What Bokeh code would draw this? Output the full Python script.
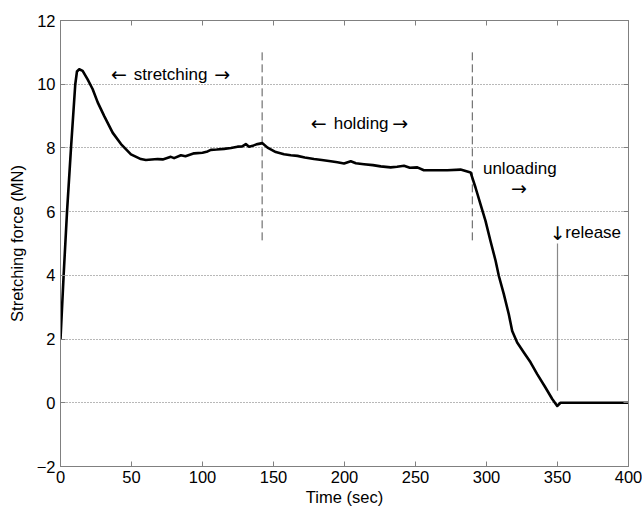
from bokeh.plotting import figure
from bokeh.models import Range1d, FixedTicker, LinearAxis, ColumnDataSource
from bokeh.embed import file_html
from bokeh.resources import INLINE
from bokeh.core.properties import value

# ---- data ----
time_s = [0, 2.2, 4.6, 7.4, 10.4, 11.6, 13.2, 15.6, 19.1, 22.6, 26.2, 30.8, 36.7,
          42.6, 49.6, 56.6, 60.1, 68.4, 72, 77.7, 80, 84.8, 88, 94.1, 100, 103.6,
          105.9, 110, 115.2, 120, 124.7, 128, 130.5, 132.8, 136, 138.7, 142.2,
          145.8, 151.6, 157.4, 162.2, 166.9, 172, 178.5, 184, 190.3, 195, 199.7,
          204.4, 208, 213.7, 220, 225.5, 232.5, 237, 241.9, 246, 251.3, 255.9,
          262, 272.4, 281.7, 286.5, 288.8, 292.3, 295.8, 299.3, 302.8, 306.4,
          308.7, 312.2, 315.7, 318.1, 321.6, 326.3, 331, 335.7, 341.5, 346.3,
          349.8, 352.1, 400]
force_mn = [2.0, 4.0, 6.0, 8.0, 10.0, 10.4, 10.47, 10.42, 10.15, 9.85, 9.43, 9.0, 8.48,
            8.12, 7.8, 7.65, 7.62, 7.65, 7.64, 7.72, 7.68, 7.77, 7.74, 7.83, 7.85, 7.89,
            7.94, 7.95, 7.97, 8.0, 8.04, 8.05, 8.12, 8.04, 8.08, 8.12, 8.15,
            8.01, 7.87, 7.8, 7.77, 7.75, 7.7, 7.65, 7.62, 7.58, 7.55, 7.51,
            7.58, 7.52, 7.49, 7.46, 7.42, 7.39, 7.41, 7.44, 7.38, 7.39, 7.30,
            7.30, 7.30, 7.32, 7.26, 7.23, 6.75, 6.23, 5.71, 5.08, 4.46,
            3.98, 3.41, 2.78, 2.25, 1.89, 1.58, 1.27, 0.9, 0.48, 0.12,
            -0.1, 0.0, 0.0]

x_ticks = [0, 50, 100, 150, 200, 250, 300, 350, 400]
y_ticks = [-2, 0, 2, 4, 6, 8, 10, 12]

phase_x = [142, 290]          # dashed phase boundaries
phase_y = [11.0, 5.0]         # top / bottom of the dashed lines
release_x = [350]
release_y = [5.0, 0.38]

# annotation words
word_text = ["stretching", "holding", "unloading", "release"]
word_x = [51.6, 192.4, 297.5, 355.5]
word_y = [10.32, 8.78, 7.35, 5.33]
# annotation arrows
arrow_text = ["\u2190", "\u2192", "\u2190", "\u2192", "\u2192", "\u2193"]
arrow_x = [35.5, 108.2, 176.2, 233.7, 317.3, 344.5]
arrow_y = [10.32, 10.32, 8.78, 8.78, 6.75, 5.33]

FONT = "Liberation Sans"
AXIS_COLOR = "#808080"

p = figure(width=642, height=510, output_backend="svg", toolbar_location=None,
           x_range=Range1d(0, 400), y_range=Range1d(-2, 12),
           min_border_left=60, min_border_right=14, min_border_top=20, min_border_bottom=44)
p.outline_line_color = AXIS_COLOR
p.background_fill_color = "white"
p.border_fill_color = "white"

for ax in (p.xaxis[0], p.yaxis[0]):
    ax.axis_line_color = AXIS_COLOR
    ax.major_tick_line_color = AXIS_COLOR
    ax.major_tick_in = 5
    ax.major_tick_out = 0
    ax.minor_tick_line_color = None
    ax.major_label_text_font = FONT
    ax.major_label_text_font_size = "16.5px"
    ax.major_label_text_color = "black"
    ax.axis_label_text_font = FONT
    ax.axis_label_text_font_size = "16.5px"
    ax.axis_label_text_font_style = "normal"
    ax.axis_label_text_color = "black"

p.xaxis[0].ticker = FixedTicker(ticks=x_ticks)
p.yaxis[0].ticker = FixedTicker(ticks=y_ticks)
p.xaxis[0].axis_label = "Time (sec)"
p.yaxis[0].axis_label = "Stretching force (MN)"
p.xaxis[0].major_label_standoff = 4
p.xaxis[0].axis_label_standoff = 2
p.yaxis[0].major_label_standoff = 5
p.yaxis[0].axis_label_standoff = 8

# box ticks on top and right (no labels)
top = LinearAxis(ticker=FixedTicker(ticks=x_ticks))
right = LinearAxis(ticker=FixedTicker(ticks=y_ticks))
for ax in (top, right):
    ax.axis_line_color = AXIS_COLOR
    ax.major_tick_line_color = AXIS_COLOR
    ax.major_tick_in = 5
    ax.major_tick_out = 0
    ax.minor_tick_line_color = None
    ax.major_label_text_font_size = "1px"
    ax.major_label_text_color = None
    ax.major_label_standoff = 0
p.add_layout(top, "above")
p.add_layout(right, "right")

p.xgrid.grid_line_color = None
p.ygrid.ticker = FixedTicker(ticks=y_ticks)
p.ygrid.grid_line_color = "#707070"
p.ygrid.grid_line_dash = "1 2"
p.ygrid.grid_line_width = 1

# dashed phase lines
p.segment(x0=phase_x, y0=[phase_y[0]] * len(phase_x), x1=phase_x, y1=[phase_y[1]] * len(phase_x),
          line_color="#555555", line_width=1, line_dash="8 4")
# release line
p.segment(x0=release_x, y0=[release_y[0]], x1=release_x, y1=[release_y[1]],
          line_color="#888888", line_width=1.2)

p.line(time_s, force_mn, line_color="black", line_width=2.6, line_join="round")

wsrc = ColumnDataSource(dict(x=word_x, y=word_y, t=word_text))
p.text(x="x", y="y", text="t", source=wsrc, text_font=value(FONT), text_font_size="17px",
       text_color="black", text_align="left", text_baseline="alphabetic")
asrc = ColumnDataSource(dict(x=arrow_x, y=arrow_y, t=arrow_text))
p.text(x="x", y="y", text="t", source=asrc, text_font=value("DejaVu Sans"), text_font_size="19px",
       text_color="black", text_align="left", text_baseline="alphabetic")

open("out.html", "w").write(file_html(p, INLINE))
